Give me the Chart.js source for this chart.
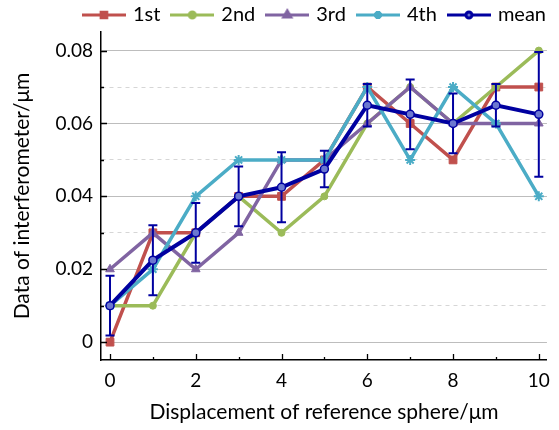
<!DOCTYPE html>
<html><head><meta charset="utf-8">
<script src="https://cdn.jsdelivr.net/npm/chart.js@4"></script>
<style>html,body{margin:0;padding:0;background:#fff}#wrap{width:559px;height:430px;position:relative}</style>
</head><body><div id="wrap"><canvas id="c" width="559" height="430"></canvas></div>
<script>
const xValues = [0,1,2,3,4,5,6,7,8,9,10];
const first  = [0,0.03,0.03,0.04,0.04,0.05,0.07,0.06,0.05,0.07,0.07];
const second = [0.01,0.01,0.03,0.04,0.03,0.04,0.06,0.07,0.06,0.07,0.08];
const third  = [0.02,0.03,0.02,0.03,0.05,0.05,0.06,0.07,0.06,0.06,0.06];
const fourth = [0.01,0.02,0.04,0.05,0.05,0.05,0.07,0.05,0.07,0.06,0.04];
const meanValues = [0.01,0.0225,0.03,0.04,0.0425,0.0475,0.065,0.0625,0.06,0.065,0.0625];
const meanErrors = [0.0082,0.0096,0.0082,0.0082,0.0096,0.005,0.0058,0.0096,0.0082,0.0058,0.0171];
const seriesNames = ['1st','2nd','3rd','4th','mean'];
const xTickValues = [0,1,2,3,4,5,6,7,8,9,10];
const xTickLabels = ['0','','2','','4','','6','','8','','10'];
const yTickValues = [0,0.01,0.02,0.03,0.04,0.05,0.06,0.07,0.08];
const yTickLabels = ['0','','0.02','','0.04','','0.06','','0.08'];
const xTitle = 'Displacement of reference sphere/\u03bcm';
const yTitle = 'Data of interferometer/\u03bcm';

const FONT = 'Lato';
const colors = ['#C0504D','#9BBB59','#8064A2','#4BACC6','#0000A0'];
const styles = ['rect','circle','triangle','star','circle'];
const radii = [5.5,3.5,5,5,4];
const legendRadii = [4,3,4,4,3];
const fills = ['#C0504D','#9BBB59','#8064A2','#4BACC6','#6C78D0'];
const widths = [3.5,3.5,3.5,3.5,4];
const seriesData = [first,second,third,fourth,meanValues];

function pts(arr){ return arr.map((v,i)=>({x:xValues[i], y:v})); }

function legendIcon(i){
  const cv = document.createElement('canvas');
  cv.width = 44; cv.height = 14;
  const c = cv.getContext('2d');
  c.strokeStyle = colors[i]; c.lineWidth = 3;
  c.beginPath(); c.moveTo(0,7); c.lineTo(44,7); c.stroke();
  c.fillStyle = fills[i];
  c.strokeStyle = colors[i];
  Chart.helpers.drawPoint(c, {pointStyle: styles[i], radius: legendRadii[i], borderWidth: i===4?1.5:1}, 22, 7);
  return cv;
}

const datasets = seriesData.map((d,i)=>({
  label: seriesNames[i],
  data: pts(d),
  borderColor: colors[i],
  backgroundColor: fills[i],
  borderWidth: widths[i],
  pointStyle: styles[i],
  pointRadius: radii[i],
  pointBorderColor: colors[i],
  pointBackgroundColor: fills[i],
  pointBorderWidth: i===4 ? 1.5 : (i===3 ? 2 : 1),
  tension: 0,
  order: 5 - i,
  showLine: true
}));

const errorBars = {
  id: 'errorBars',
  beforeDatasetDraw(chart, args){
    if (args.index !== 4) return;
    const ctx = chart.ctx, xs = chart.scales.x, ys = chart.scales.y;
    ctx.save();
    ctx.strokeStyle = '#0000A0'; ctx.lineWidth = 2;
    meanValues.forEach((m,i)=>{
      const px = xs.getPixelForValue(xValues[i]);
      const top = ys.getPixelForValue(m + meanErrors[i]);
      const bot = ys.getPixelForValue(m - meanErrors[i]);
      ctx.beginPath();
      ctx.moveTo(px, top); ctx.lineTo(px, bot);
      ctx.moveTo(px-4.5, top); ctx.lineTo(px+4.5, top);
      ctx.moveTo(px-4.5, bot); ctx.lineTo(px+4.5, bot);
      ctx.stroke();
    });
    ctx.restore();
  }
};

const layoutFix = {
  id: 'layoutFix',
  beforeInit(chart){
    const lg = chart.legend;
    if (lg) {
      const orig = lg.fit;
      lg.fit = function(){ orig.call(this); this.height = 32; };
    }
  },
  beforeDraw(chart){
    const lg = chart.legend;
    if (lg) { lg.left = 0; lg.right = 559; lg.top = -8; }
  },
  afterDraw(chart){
    const ctx = chart.ctx, xs = chart.scales.x, ys = chart.scales.y;
    const ca = chart.chartArea;
    ctx.save();
    ctx.strokeStyle = '#000'; ctx.lineWidth = 1.3;
    ctx.beginPath();
    xTickValues.forEach((v,i)=>{
      const px = Math.round(xs.getPixelForValue(v)) + 0.5;
      const len = xTickLabels[i] ? 6 : 3;
      ctx.moveTo(px, ca.bottom); ctx.lineTo(px, ca.bottom - len);
    });
    yTickValues.forEach((v,i)=>{
      const py = Math.round(ys.getPixelForValue(v)) + 0.5;
      const len = yTickLabels[i] ? 6 : 3;
      ctx.moveTo(ca.left, py); ctx.lineTo(ca.left + len, py);
    });
    ctx.stroke();
    ctx.restore();
  }
};

new Chart(document.getElementById('c'), {
  type: 'scatter',
  data: { datasets },
  options: {
    responsive: false,
    animation: false,
    devicePixelRatio: 1,
    layout: { padding: { left: 0, right: 10, top: 0, bottom: 0 } },
    plugins: {
      tooltip: { enabled: false },
      legend: {
        position: 'top',
        align: 'end',
        labels: {
          usePointStyle: true,
          pointStyleWidth: 38,
          padding: 13,
          color: '#000',
          font: { family: FONT, size: 20 },
          generateLabels(chart){
            return seriesNames.map((n,i)=>({
              text: n, pointStyle: legendIcon(i), fillStyle: fills[i], strokeStyle: colors[i],
              lineWidth: 0, datasetIndex: i, hidden: false, fontColor: '#000'
            }));
          }
        }
      }
    },
    scales: {
      x: {
        type: 'linear', min: -0.21, max: 10.19,
        afterBuildTicks(s){ s.ticks = xTickValues.map(v=>({value:v})); },
        afterFit(s){ s.height = 70; },
        ticks: { autoSkip: false, maxRotation: 0, padding: 9, color: '#000',
          font: { family: FONT, size: 19 },
          callback(v, i){ return xTickLabels[i]; } },
        grid: { display: false, drawTicks: false },
        border: { display: true, color: '#000', width: 1.5 },
        title: { display: true, text: xTitle, color: '#000', font: { family: FONT, size: 21 }, padding: { top: 0, bottom: 5 } }
      },
      y: {
        type: 'linear', min: -0.0049, max: 0.0851,
        afterBuildTicks(s){ s.ticks = yTickValues.map(v=>({value:v})); },
        afterFit(s){ s.width = 101; },
        ticks: { autoSkip: false, padding: 8, color: '#000',
          font: { family: FONT, size: 19 },
          callback(v, i){ return yTickLabels[i]; } },
        grid: { drawTicks: false, lineWidth: 1,
          color: (c)=> (c.index % 2 === 0) ? '#BDBDBD' : '#D6D6D6' },
        border: { display: true, color: '#000', width: 1.5,
          dash: (c)=> (c.tick && c.index % 2 === 1) ? [4,4] : [] },
        title: { display: true, text: yTitle, color: '#000', font: { family: FONT, size: 21 }, padding: { top: 10, bottom: 0 } }
      }
    }
  },
  plugins: [errorBars, layoutFix]
});
</script>
</body></html>
